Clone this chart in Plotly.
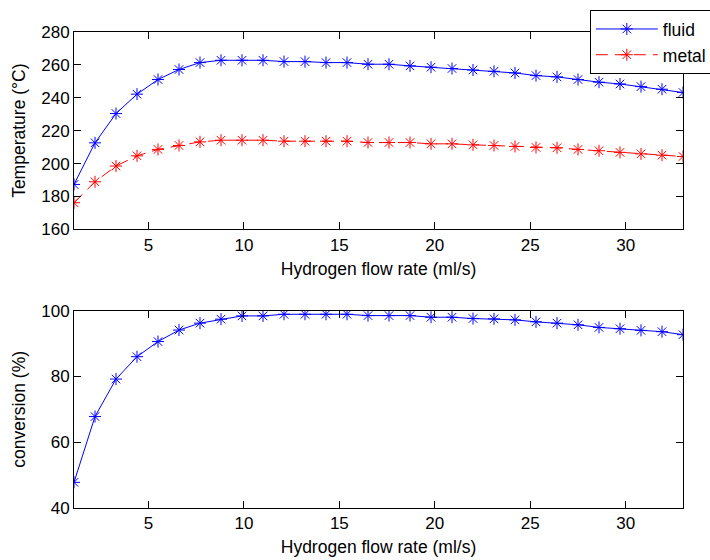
import plotly.graph_objects as go
from plotly.subplots import make_subplots

# Hydrogen flow rate (ml/s)
flow = [1.1, 2.2, 3.3, 4.4, 5.5, 6.6, 7.7, 8.8, 9.9, 11.0,
        12.1, 13.2, 14.3, 15.4, 16.5, 17.6, 18.7, 19.8, 20.9, 22.0,
        23.1, 24.2, 25.3, 26.4, 27.5, 28.6, 29.7, 30.8, 31.9, 33.0]

# Temperatures (°C)
fluid = [187.3, 212.6, 230.4, 242.2, 251.1, 257.2, 261.4, 262.8, 262.8, 262.8,
         262.0, 262.0, 261.4, 261.4, 260.4, 260.4, 259.4, 258.6, 257.8, 256.9,
         256.1, 255.1, 253.5, 252.7, 251.1, 249.5, 248.4, 246.8, 245.2, 243.2]
metal = [176.2, 188.9, 198.5, 204.7, 208.6, 211.0, 213.2, 214.2, 214.2, 214.2,
         213.6, 213.6, 213.6, 213.6, 212.8, 212.8, 212.8, 212.0, 212.0, 211.4,
         211.0, 210.4, 209.8, 209.6, 208.6, 207.8, 206.8, 205.9, 205.1, 204.3]

# Conversion (%)
conversion = [47.8, 67.8, 79.2, 86.0, 90.6, 94.1, 96.2, 97.4, 98.4, 98.4,
              98.9, 98.9, 98.9, 98.9, 98.5, 98.5, 98.5, 98.0, 98.0, 97.6,
              97.5, 97.2, 96.6, 96.2, 95.7, 94.9, 94.5, 94.0, 93.6, 92.7]

x_ticks = [5, 10, 15, 20, 25, 30]
temp_ticks = [160, 180, 200, 220, 240, 260, 280]
conv_ticks = [40, 60, 80, 100]

BLUE = "rgb(0,0,255)"
RED = "rgb(255,0,0)"
FONT = "Liberation Sans, Arial, sans-serif"
FS = 17
TITLE_FS = 17.5

fig = make_subplots(rows=2, cols=1, vertical_spacing=0.1708)

marker_style = dict(symbol="asterisk-open", size=10)

fig.add_trace(go.Scatter(
    x=flow, y=fluid, name="fluid", mode="lines+markers",
    line=dict(color=BLUE, width=1),
    marker=dict(**marker_style, color=BLUE, line=dict(color=BLUE, width=1)),
), row=1, col=1)
fig.add_trace(go.Scatter(
    x=flow, y=metal, name="metal", mode="lines+markers",
    line=dict(color=RED, width=1, dash="12px,7px"),
    marker=dict(**marker_style, color=RED, line=dict(color=RED, width=1)),
), row=1, col=1)
fig.add_trace(go.Scatter(
    x=flow, y=conversion, name="conversion", mode="lines+markers",
    showlegend=False,
    line=dict(color=BLUE, width=1),
    marker=dict(**marker_style, color=BLUE, line=dict(color=BLUE, width=1)),
), row=2, col=1)

axis_common = dict(
    showline=True, linecolor="black", linewidth=1, mirror="ticks",
    ticks="inside", ticklen=7, tickcolor="black", tickwidth=1,
    showgrid=False, zeroline=False,
    tickfont=dict(family=FONT, size=FS, color="black"),
)

for r in (1, 2):
    fig.update_xaxes(
        **axis_common, range=[1.1, 33], tickvals=x_ticks,
        title=dict(text="Hydrogen flow rate (ml/s)",
                   font=dict(family=FONT, size=TITLE_FS, color="black"), standoff=8),
        row=r, col=1,
    )

fig.update_yaxes(
    **axis_common, range=[160, 280], tickvals=temp_ticks,
    title=dict(text="Temperature (°C)",
               font=dict(family=FONT, size=TITLE_FS, color="black"), standoff=11),
    row=1, col=1,
)
fig.update_yaxes(
    **axis_common, range=[40, 100], tickvals=conv_ticks,
    title=dict(text="conversion (%)",
               font=dict(family=FONT, size=TITLE_FS, color="black"), standoff=11),
    row=2, col=1,
)

fig.update_layout(
    width=710, height=560,
    margin=dict(l=74, r=27, t=32, b=52, autoexpand=False),
    paper_bgcolor="white", plot_bgcolor="white",
    font=dict(family=FONT, size=FS, color="black"),
    legend=dict(
        x=0.847, y=1.046, xanchor="left", yanchor="top",
        bgcolor="white", bordercolor="black", borderwidth=1,
        font=dict(family=FONT, size=TITLE_FS, color="black"),
        itemwidth=62,
    ),
)

fig.write_html("out.html")
